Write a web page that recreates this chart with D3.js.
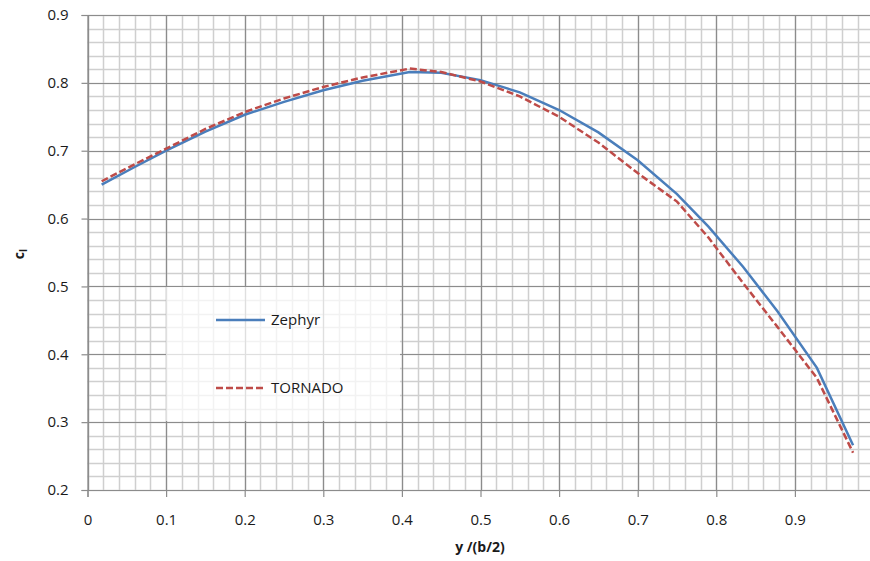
<!DOCTYPE html>
<html>
<head>
<meta charset="utf-8">
<script src="https://d3js.org/d3.v7.min.js"></script>
<style>
    body { margin: 0; background: #fff; }
    .tick-label { font-family: "Open Sans", sans-serif; font-size: 15px; fill: #1a1a1a; }
    .axis-title { font-family: "Open Sans", sans-serif; font-size: 14px; font-weight: bold; fill: #1a1a1a; }
    .legend-text { font-family: "Open Sans", sans-serif; font-size: 15px; fill: #1a1a1a; }
</style>
</head>
<body>
<div class="chart-main"></div>
<script>

//////////
// DATA //
//////////

var stations = [0.018, 0.06, 0.1, 0.15, 0.2, 0.25, 0.3, 0.35, 0.41, 0.45, 0.5,
    0.55, 0.6, 0.65, 0.7, 0.75, 0.79, 0.834, 0.878, 0.928, 0.974];

var zephyr = [0.650, 0.676, 0.700, 0.728, 0.753, 0.772, 0.789, 0.803, 0.816, 0.815, 0.804,
    0.786, 0.760, 0.727, 0.686, 0.636, 0.588, 0.529, 0.463, 0.380, 0.266];

var tornado = [0.655, 0.680, 0.703, 0.732, 0.757, 0.777, 0.794, 0.808, 0.821, 0.816, 0.802,
    0.780, 0.750, 0.712, 0.667, 0.625, 0.572, 0.505, 0.440, 0.365, 0.255];

var xTicks = [0, 0.1, 0.2, 0.3, 0.4, 0.5, 0.6, 0.7, 0.8, 0.9, 1];
var yTicks = [0.2, 0.3, 0.4, 0.5, 0.6, 0.7, 0.8, 0.9];

var seriesNames = ['Zephyr', 'TORNADO'];

//////////////////
// CREATING SVG //
//////////////////

var w = 870,
    h = 561;

var svg = d3.select('.chart-main')
    .append('svg')
    .attr('width', w)
    .attr('height', h);

////////////
// SCALES //
////////////

var xScale = d3.scaleLinear()
    .domain([0, 1])
    .range([87.5, 873.5]);

var yScale = d3.scaleLinear()
    .domain([0.2, 0.9])
    .range([490, 15]);

//////////
// GRID //
//////////

var minorX = d3.range(0, 51).map(function(i) { return i * 0.02; });
var minorY = d3.range(0, 36).map(function(i) { return 0.2 + i * 0.02; });

var grid = svg.append('g').attr('class', 'grid');

grid.selectAll('.minor-x')
    .data(minorX)
    .enter()
    .append('line')
    .attr('x1', function(d) { return Math.round(xScale(d)) + 0.5; })
    .attr('x2', function(d) { return Math.round(xScale(d)) + 0.5; })
    .attr('y1', yScale(0.2))
    .attr('y2', yScale(0.9))
    .attr('stroke', '#cfcfcf')
    .attr('stroke-width', 1.5);

grid.selectAll('.minor-y')
    .data(minorY)
    .enter()
    .append('line')
    .attr('x1', xScale(0))
    .attr('x2', xScale(1))
    .attr('y1', function(d) { return Math.round(yScale(d)) + 0.5; })
    .attr('y2', function(d) { return Math.round(yScale(d)) + 0.5; })
    .attr('stroke', '#cfcfcf')
    .attr('stroke-width', 1.5);

grid.selectAll('.major-x')
    .data(xTicks)
    .enter()
    .append('line')
    .attr('x1', function(d) { return Math.round(xScale(d)) + 0.5; })
    .attr('x2', function(d) { return Math.round(xScale(d)) + 0.5; })
    .attr('y1', yScale(0.2))
    .attr('y2', yScale(0.9))
    .attr('stroke', '#8c8c8c')
    .attr('stroke-width', 1.2);

grid.selectAll('.major-y')
    .data(yTicks)
    .enter()
    .append('line')
    .attr('x1', xScale(0))
    .attr('x2', xScale(1))
    .attr('y1', function(d) { return Math.round(yScale(d)) + 0.5; })
    .attr('y2', function(d) { return Math.round(yScale(d)) + 0.5; })
    .attr('stroke', '#8c8c8c')
    .attr('stroke-width', 1.2);

//////////
// AXIS //
//////////

var xAxis = d3.axisBottom(xScale)
    .tickValues(xTicks)
    .tickSize(7)
    .tickPadding(17)
    .tickFormat(d3.format(''));

var yAxis = d3.axisLeft(yScale)
    .tickValues(yTicks)
    .tickSize(6)
    .tickPadding(13)
    .tickFormat(d3.format('.1f'));

svg.append('g')
    .attr('class', 'axis x-axis')
    .attr('transform', 'translate(0,' + yScale(0.2) + ')')
    .call(xAxis);

svg.append('g')
    .attr('class', 'axis y-axis')
    .attr('transform', 'translate(' + xScale(0) + ',0)')
    .call(yAxis);

svg.selectAll('.axis .domain')
    .attr('stroke', '#8c8c8c')
    .attr('stroke-width', 1.2);

svg.selectAll('.axis .tick line')
    .attr('stroke', '#8c8c8c')
    .attr('stroke-width', 1.2);

svg.selectAll('.axis text')
    .attr('class', 'tick-label')
    .attr('fill', null);

// axis titles
svg.append('text')
    .attr('class', 'axis-title')
    .attr('x', 480)
    .attr('y', 552)
    .attr('text-anchor', 'middle')
    .text('y /(b/2)');

var yTitle = svg.append('text')
    .attr('class', 'axis-title')
    .attr('transform', 'translate(24,254) rotate(-90)')
    .attr('text-anchor', 'middle');

yTitle.append('tspan').text('c');
yTitle.append('tspan')
    .attr('dy', 3)
    .style('font-size', '10px')
    .text('l');

////////////
// LEGEND //
////////////

svg.append('rect')
    .attr('x', 166)
    .attr('y', 287)
    .attr('width', 234)
    .attr('height', 134)
    .attr('fill', '#fff')
    .attr('fill-opacity', 0.72);

///////////
// LINES //
///////////

var line = d3.line()
    .x(function(d) { return xScale(d[0]); })
    .y(function(d) { return yScale(d[1]); });

var colors = ['#4a7ebb', '#be4b48'];
var dashes = [null, '7,3'];

[zephyr, tornado].forEach(function(series, i) {
    svg.append('path')
        .datum(stations.map(function(s, j) { return [s, series[j]]; }))
        .attr('d', line)
        .attr('fill', 'none')
        .attr('stroke', colors[i])
        .attr('stroke-width', 2.5)
        .attr('stroke-dasharray', dashes[i]);
});

var legendY = [320, 388];

seriesNames.forEach(function(name, i) {
    svg.append('line')
        .attr('x1', 216)
        .attr('x2', 265)
        .attr('y1', legendY[i])
        .attr('y2', legendY[i])
        .attr('stroke', colors[i])
        .attr('stroke-width', 2.5)
        .attr('stroke-dasharray', dashes[i]);

    svg.append('text')
        .attr('class', 'legend-text')
        .attr('x', 271)
        .attr('y', legendY[i] + 5)
        .text(name);
});

</script>
</body>
</html>
